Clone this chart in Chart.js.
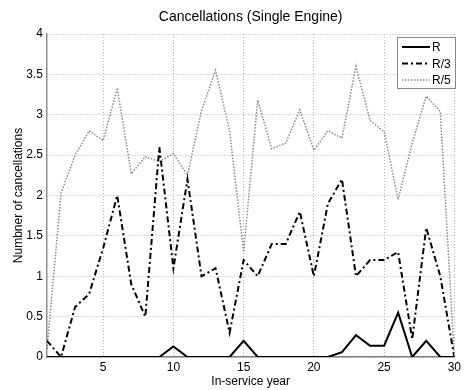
<!DOCTYPE html>
<html>
<head>
<meta charset="utf-8">
<script src="https://cdn.jsdelivr.net/npm/chart.js@4/dist/chart.umd.min.js"></script>
<style>
  html, body { margin: 0; padding: 0; background: #fff; }
  #wrap { width: 464px; height: 390px; position: relative; }
</style>
</head>
<body>
<div id="wrap"><canvas id="cancelChart"></canvas></div>
<script>
// in-service years and cancellations
const years = [1, 2, 3, 4, 5, 6, 7, 8, 9, 10, 11, 12, 13, 14, 15, 16, 17, 18, 19, 20, 21, 22, 23, 24, 25, 26, 27, 28, 29, 30];
const seriesR = [0, 0, 0, 0, 0, 0, 0, 0, 0, 0.13, 0, 0, 0, 0, 0.2, 0, 0, 0, 0, 0, 0, 0.06, 0.27, 0.14, 0.14, 0.55, 0, 0.2, 0, 0];
const seriesR3 = [0.2, 0, 0.62, 0.78, 1.35, 2.0, 0.9, 0.5, 2.6, 1.1, 2.2, 1.0, 1.1, 0.3, 1.2, 1.0, 1.4, 1.4, 1.8, 1.0, 1.9, 2.2, 1.0, 1.2, 1.2, 1.3, 0.22, 1.6, 1.0, 0];
const seriesR5 = [0.1, 2.03, 2.5, 2.8, 2.68, 3.33, 2.27, 2.48, 2.42, 2.52, 2.25, 3.05, 3.55, 2.8, 1.3, 3.18, 2.58, 2.65, 3.06, 2.56, 2.8, 2.71, 3.6, 2.93, 2.79, 1.95, 2.65, 3.23, 3.04, 0];
const xTicks = [5, 10, 15, 20, 25, 30];
const seriesNames = ['R', 'R/3', 'R/5'];

Chart.defaults.font.family = "'Liberation Sans', Arial, sans-serif";
Chart.defaults.color = '#000';

const toPoints = arr => arr.map((v, i) => ({ x: years[i], y: v }));

// matlab-like legend box in the top right corner
const boxLegend = {
    id: 'boxLegend',
    afterDatasetsDraw(chart) {
        const ctx = chart.ctx;
        const x0 = 397, y0 = 37, w = 58, h = 51;
        ctx.save();
        ctx.fillStyle = '#fff';
        ctx.fillRect(x0, y0, w, h);
        ctx.strokeStyle = '#888';
        ctx.lineWidth = 1;
        ctx.strokeRect(x0 + 0.5, y0 + 0.5, w, h);
        chart.data.datasets.forEach((ds, i) => {
            const y = y0 + 10 + i * 16.5;
            ctx.beginPath();
            ctx.strokeStyle = ds.borderColor;
            ctx.lineWidth = ds.borderWidth;
            ctx.setLineDash(ds.borderDash || []);
            ctx.moveTo(x0 + 5, y);
            ctx.lineTo(x0 + 33, y);
            ctx.stroke();
            ctx.setLineDash([]);
            ctx.fillStyle = '#000';
            ctx.font = "12px 'Liberation Sans', Arial, sans-serif";
            ctx.textBaseline = 'middle';
            ctx.textAlign = 'left';
            ctx.fillText(ds.label, x0 + 35, y + 1);
        });
        ctx.restore();
    }
};

new Chart(document.getElementById('cancelChart').getContext('2d'), {
    type: 'line',
    data: {
        datasets: [{
            label: seriesNames[0],
            data: toPoints(seriesR),
            borderColor: '#000',
            borderWidth: 2,
            order: 1,
        }, {
            label: seriesNames[1],
            data: toPoints(seriesR3),
            borderColor: '#000',
            borderWidth: 2,
            borderDash: [6, 3, 2, 3],
            order: 2,
        }, {
            label: seriesNames[2],
            data: toPoints(seriesR5),
            borderColor: '#8a8a8a',
            borderWidth: 1.5,
            borderDash: [1.5, 1.5],
            order: 3,
        }],
    },
    options: {
        responsive: true,
        maintainAspectRatio: false,
        animation: false,
        layout: { padding: { left: 0, right: 3, top: 0, bottom: 0 } },
        elements: {
            point: { radius: 0 },
            line: { tension: 0, fill: false },
        },
        plugins: {
            legend: { display: false },
            tooltip: { enabled: false },
            title: {
                display: true,
                text: 'Cancellations (Single Engine)',
                fullSize: false,
                font: { size: 14, weight: 'normal' },
                color: '#000',
                padding: { top: 9, bottom: 8.2 },
            },
        },
        scales: {
            x: {
                type: 'linear',
                min: 1,
                max: 30,
                afterBuildTicks: scale => {
                    scale.ticks = xTicks.map(v => ({ value: v }));
                },
                afterFit: scale => { scale.height = 33; },
                ticks: {
                    font: { size: 12 },
                    padding: 3,
                    maxRotation: 0,
                    autoSkip: false,
                    callback: value => String(value),
                },
                grid: { color: '#b4b4b4', lineWidth: 1, drawTicks: false },
                border: { color: '#808080', width: 1.5, dash: [1, 2] },
                title: {
                    display: true,
                    text: 'In-service year',
                    font: { size: 12 },
                    padding: { top: 0, bottom: 1 },
                },
            },
            y: {
                min: 0,
                max: 4,
                afterFit: scale => { scale.width = 47; },
                ticks: {
                    stepSize: 0.5,
                    font: { size: 12 },
                    padding: 4,
                    callback: value => String(value),
                },
                grid: { color: '#b4b4b4', lineWidth: 1, drawTicks: false },
                border: { color: '#909090', width: 1.5, dash: [1, 2] },
                title: {
                    display: true,
                    text: 'Numbner of cancellations',
                    font: { size: 12 },
                    padding: { top: 11, bottom: 0 },
                },
            },
        },
    },
    plugins: [boxLegend],
});
</script>
</body>
</html>
